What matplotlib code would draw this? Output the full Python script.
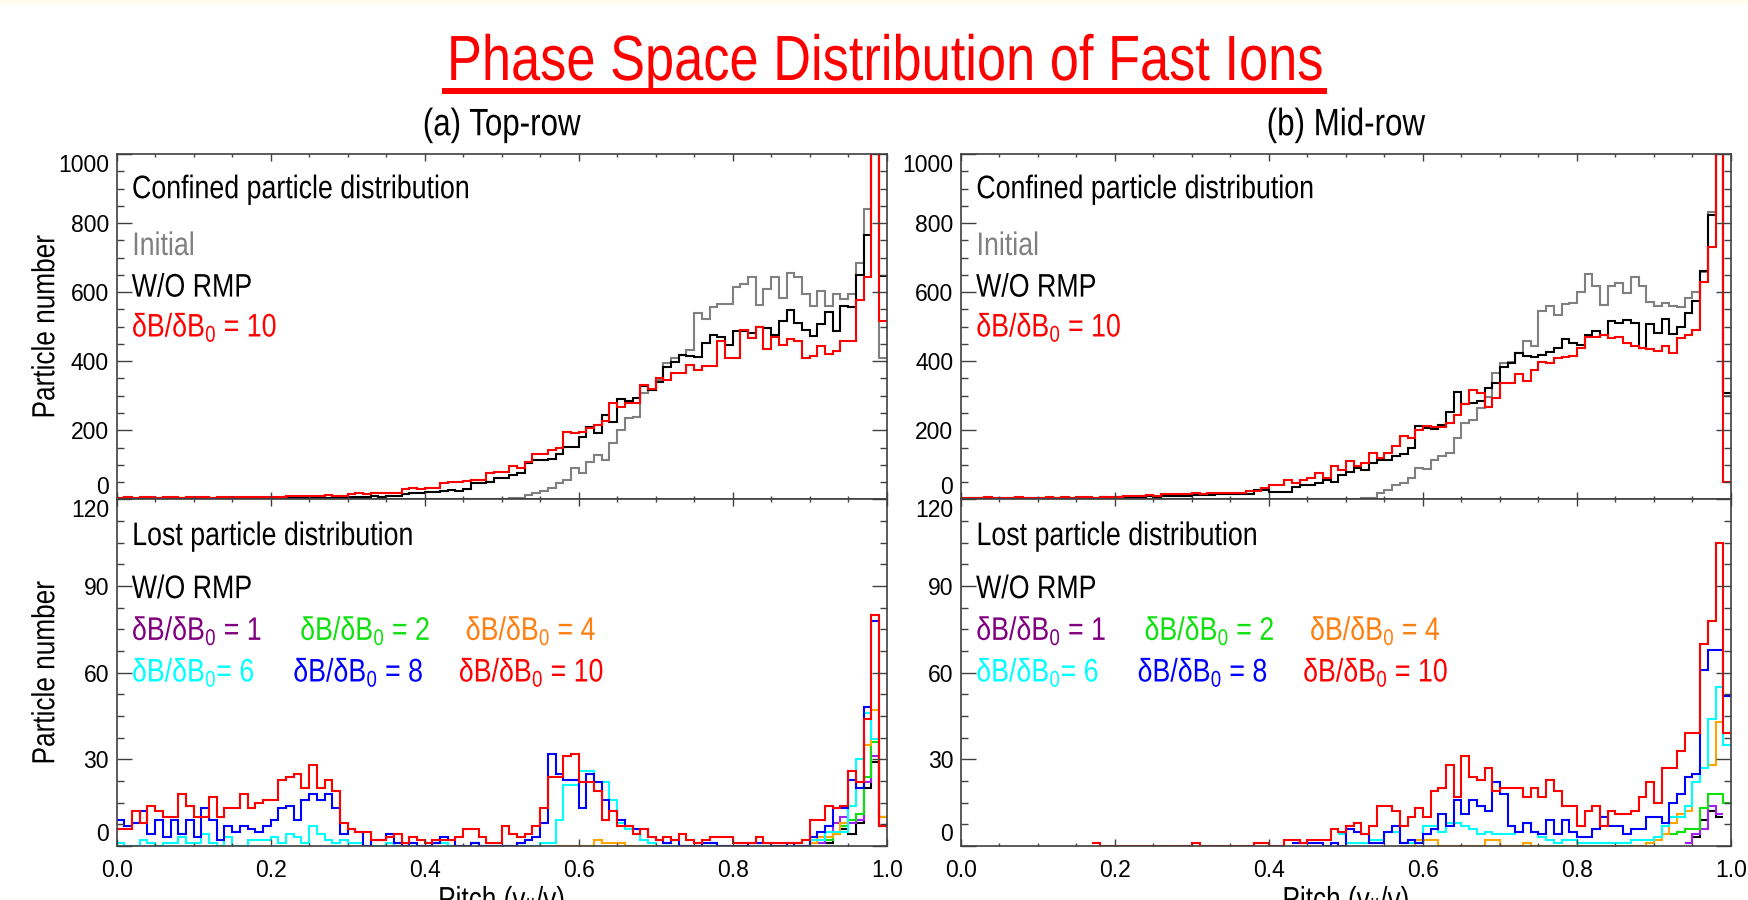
import numpy as np
import matplotlib
matplotlib.use("Agg")
import matplotlib.pyplot as plt
from matplotlib.lines import Line2D
from matplotlib.patches import Rectangle
from matplotlib.patheffects import AbstractPathEffect
from matplotlib.transforms import Affine2D
from matplotlib.ticker import FixedLocator, MultipleLocator, FormatStrFormatter

nan = np.nan

# ---------------------------------------------------------------------------
# histogram data: 100 pitch bins of width 0.01 on [0, 1]
# ---------------------------------------------------------------------------
pitch_edges = np.linspace(0.0, 1.0, 101)

# (a) top-row, confined particles
conf_top_initial = [0] * 50 + [
    1, 3, 5, 12, 17, 25, 32, 46, 56, 90,
    77, 109, 128, 114, 162, 201, 235, 239, 307, 317,
    346, 394, 408, 418, 432, 540, 521, 556, 566, 566,
    616, 623, 645, 563, 608, 645, 583, 654, 643, 595,
    561, 604, 561, 595, 580, 595, 685, 840, 1350, 408]
conf_top_worm = [
    4, 3, 4, 5, 3, 4, 4, 3, 5, 4,
    4, 5, 3, 4, 5, 4, 4, 5, 5, 4,
    5, 5, 6, 4, 5, 6, 6, 5, 7, 6,
    8, 7, 8, 9, 8, 10, 9, 14, 17, 19,
    20, 22, 24, 26, 25, 30, 46, 46, 50, 61,
    61, 70, 75, 105, 114, 114, 118, 131, 152, 152,
    181, 210, 191, 244, 225, 290, 286, 292, 328, 317,
    341, 384, 399, 418, 415, 411, 452, 476, 469, 447,
    486, 486, 481, 500, 495, 476, 515, 548, 510, 490,
    474, 508, 543, 486, 560, 556, 650, 765, 1350, 648]
conf_top_db10 = [
    5, 6, 5, 7, 6, 5, 6, 7, 5, 6,
    7, 6, 5, 7, 6, 6, 7, 6, 8, 7,
    6, 8, 9, 10, 9, 11, 10, 12, 10, 11,
    15, 17, 16, 18, 17, 19, 18, 30, 32, 31,
    34, 32, 48, 51, 50, 52, 55, 56, 75, 80,
    80, 95, 90, 109, 131, 131, 143, 150, 196, 191,
    196, 206, 215, 228, 278, 268, 278, 278, 331, 319,
    350, 346, 367, 365, 389, 375, 386, 386, 457, 408,
    408, 490, 466, 500, 436, 469, 447, 465, 457, 408,
    416, 443, 420, 430, 457, 457, 577, 645, 1350, 517]

# (b) mid-row, confined particles
conf_mid_initial = [0] * 50 + [
    1, 2, 3, 5, 17, 27, 41, 46, 61, 90,
    87, 114, 125, 135, 177, 222, 230, 264, 297, 367,
    394, 399, 423, 457, 444, 546, 560, 534, 566, 569,
    601, 652, 618, 563, 618, 626, 598, 645, 618, 572,
    560, 569, 560, 558, 582, 601, 659, 833, 1350, 300]
conf_mid_worm = [
    3, 4, 3, 3, 4, 3, 4, 5, 3, 4,
    4, 3, 5, 4, 4, 5, 4, 5, 6, 5,
    6, 7, 8, 7, 9, 8, 10, 9, 11, 10,
    12, 13, 12, 15, 15, 15, 15, 15, 27, 27,
    22, 22, 22, 35, 41, 41, 48, 56, 51, 70,
    80, 90, 85, 104, 114, 114, 124, 131, 148, 212,
    206, 203, 215, 254, 312, 276, 280, 286, 322, 336,
    383, 394, 425, 415, 411, 418, 428, 437, 465, 452,
    447, 476, 486, 476, 517, 510, 519, 510, 437, 508,
    483, 521, 480, 500, 540, 575, 662, 823, 1350, 307]
conf_mid_db10 = [
    4, 5, 4, 6, 5, 4, 5, 6, 5, 4,
    5, 6, 5, 6, 5, 7, 6, 5, 6, 7,
    8, 10, 11, 10, 12, 11, 14, 15, 16, 15,
    17, 16, 18, 19, 19, 17, 17, 25, 25, 32,
    41, 41, 56, 46, 56, 61, 77, 61, 97, 85,
    112, 97, 106, 133, 119, 133, 154, 183, 177, 201,
    212, 210, 208, 220, 244, 276, 317, 307, 268, 292,
    336, 338, 363, 344, 375, 399, 394, 408, 413, 415,
    437, 469, 469, 476, 466, 469, 452, 443, 437, 434,
    430, 444, 425, 466, 476, 490, 629, 732, 1350, 49]

# (a) top-row, lost particles
lost_top_worm = [nan] * 92 + [1, 4, 6, 4, 8, 20, 29, 10]
lost_top_db1 = [nan] * 91 + [1, 3, 8, 10, 8, 9, 22, 31, 7]
lost_top_db2 = [nan] * 92 + [2, 4, 7, 9, 11, 24, 36, 10]
lost_top_db4 = [nan] * 57 + [0, 0, 0, 0, 0, 2, 1, 1, 1, 0] + [0] * 23 + [
    1, 3, 3, 4, 8, 14, 20, 35, 47, 10]
lost_top_db6 = [
    1, 0, 0, 2, 1, 0, 1, 1, 3, 1,
    1, 4, 1, 0, 3, 0, 0, 2, 2, 2,
    3, 1, 4, 3, 1, 7, 4, 2, 1, 2,
    1, 1, 0, 0, 0, 1, 0, 0, 0, 0,
    0, 1, 1, 0, 0, 0, 1, 0, 0, 0,
    0, 0, 0, 0, 0, 1, 1, 9, 21, 21,
    26, 26, 19, 22, 16, 8, 6, 4, 2, 1,
    0, 0, 0, 0, 0, 0, 0, 0, 0, 0,
    0, 0, 0, 0, 0, 0, 0, 0, 0, 0,
    2, 2, 5, 5, 5, 14, 30, 46, 37, nan]
lost_top_db8 = [
    9, 7, 8, 12, 4, 9, 3, 9, 4, 9,
    3, 13, 9, 2, 7, 5, 7, 6, 5, 7,
    9, 13, 14, 9, 16, 18, 16, 18, 13, 4,
    6, 5, 0, 2, 2, 4, 1, 0, 1, 0,
    0, 1, 3, 2, 0, 0, 1, 0, 0, 0,
    0, 0, 1, 2, 3, 8, 32, 25, 23, 23,
    13, 25, 22, 16, 12, 9, 7, 6, 6, 3,
    2, 1, 2, 0, 0, 0, 1, 1, 0, 0,
    0, 0, 1, 1, 1, 0, 0, 1, 0, 0,
    3, 5, 7, 13, 13, 23, 20, 48, 78, 7]
lost_top_db10 = [
    6, 6, 12, 8, 14, 12, 10, 10, 18, 14,
    10, 10, 17, 10, 13, 13, 18, 13, 15, 16,
    16, 23, 24, 25, 20, 28, 20, 23, 19, 8,
    6, 5, 5, 2, 2, 3, 4, 1, 3, 2,
    1, 2, 2, 2, 3, 6, 6, 3, 1, 1,
    7, 4, 3, 4, 7, 13, 24, 24, 31, 32,
    22, 22, 19, 9, 12, 7, 7, 4, 6, 3,
    2, 3, 2, 4, 2, 1, 2, 3, 3, 3,
    1, 1, 1, 3, 1, 1, 1, 1, 1, 2,
    9, 9, 14, 13, 14, 26, 22, 44, 80, 7]

# (b) mid-row, lost particles
lost_mid_worm = [nan] * 94 + [1, 3, 9, 12, 10, nan]
lost_mid_db1 = [nan] * 94 + [1, 4, 6, 14, 11, nan]
lost_mid_db2 = [nan] * 92 + [4, 5, 6, 6, 13, 18, 18, 15]
lost_mid_db4 = [nan] * 57 + [0, 0, 2, 2, 2, 0, 0, 0, 0, 0, 0, 2, 2, 0, 0, 0, 1] + [0] * 15 + [
    1, 2, 4, 8, 11, 12, 22, 27, 28, 43, nan]
lost_mid_db6 = [nan] * 49 + [4,
    1, 1, 1, 2, 2, 5, 5, 1, 1, 1,
    7, 7, 5, 8, 8, 7, 6, 4, 5, 4,
    4, 4, 5, 8, 5, 3, 2, 1, 2, 2,
    1, 1, 1, 1, 1, 1, 1, 2, 2, 2,
    3, 7, 10, 10, 14, 22, 27, 44, 55, 35]
lost_mid_db8 = [nan] * 43 + [1, 1, 1, 1, 0, 1, 0,
    6, 5, 4, 1, 1, 5, 7, 1, 2, 1,
    4, 6, 11, 7, 16, 11, 16, 14, 12, 22,
    18, 7, 5, 8, 5, 4, 9, 4, 9, 5,
    3, 3, 6, 10, 7, 7, 4, 6, 6, 10,
    10, 8, 15, 18, 24, 25, 61, 68, 68, 52]
lost_mid_db10 = [nan] * 17 + [1] + [0] * 12 + [1] + [0] * 7 + [
    1, 1, 0, 0, 2, 2, 1, 2, 2, 2,
    6, 5, 7, 8, 4, 7, 14, 14, 12, 7,
    10, 13, 10, 19, 20, 28, 17, 31, 24, 23,
    27, 19, 20, 20, 20, 17, 20, 17, 23, 19,
    14, 14, 7, 12, 14, 7, 12, 11, 11, 12,
    17, 22, 15, 27, 27, 33, 39, 39, 70, 78,
    105, 39]

# ---------------------------------------------------------------------------
# styling
# ---------------------------------------------------------------------------
plt.rcParams["font.family"] = ["Liberation Sans", "DejaVu Sans"]
plt.rcParams["mathtext.fontset"] = "custom"
plt.rcParams["mathtext.rm"] = "Liberation Sans"
plt.rcParams["mathtext.it"] = "Liberation Sans"
plt.rcParams["mathtext.default"] = "regular"

AXIS_COLOR = "#404040"
LW = 1.5
C_GRAY = "#808080"
C_PURPLE_TXT, C_PURPLE = "#800080", "#a020f0"
C_GREEN = "#10e010"
C_ORANGE_TXT, C_ORANGE = "#ff7f10", "#ffa500"
C_CYAN = "#00ffff"
C_BLUE = "#0000ff"
C_RED = "#ff0000"

TEXT_SIZE = 23.5
TICK_SIZE = 16.5


class Condensed(AbstractPathEffect):
    """Draw text squeezed along its reading direction (narrow Helvetica look)."""

    def __init__(self, factor=0.82, anchor="left", vertical=False):
        super().__init__()
        self.factor = factor
        self.anchor = anchor
        self.vertical = vertical

    def draw_path(self, renderer, gc, tpath, affine, rgbFace=None):
        ext = tpath.get_extents(affine)
        if self.vertical:
            oy = (ext.y0 + ext.y1) / 2
            squeeze = Affine2D().translate(0, -oy).scale(1, self.factor).translate(0, oy)
        else:
            ox = {"left": ext.x0, "center": (ext.x0 + ext.x1) / 2,
                  "right": ext.x1}[self.anchor]
            squeeze = Affine2D().translate(-ox, 0).scale(self.factor, 1).translate(ox, 0)
        renderer.draw_path(gc, tpath, affine + squeeze, rgbFace)


def narrow(txt, anchor="left", vertical=False):
    txt.set_path_effects([Condensed(anchor=anchor, vertical=vertical)])
    return txt


def draw_hist(ax, values, color):
    ax.stairs(np.array(values, dtype=float), pitch_edges, baseline=None,
              color=color, lw=LW)


def style_axes(ax, yticks, yminor, xlabels):
    ax.set_xlim(0, 1)
    ax.set_ylim(yticks[0], yticks[-1])
    ax.xaxis.set_major_locator(FixedLocator([0.0, 0.2, 0.4, 0.6, 0.8, 1.0]))
    ax.xaxis.set_minor_locator(MultipleLocator(0.05))
    ax.yaxis.set_major_locator(FixedLocator(yticks))
    ax.yaxis.set_minor_locator(MultipleLocator(yminor))
    ax.xaxis.set_major_formatter(FormatStrFormatter("%.1f"))
    ax.yaxis.set_major_formatter(FormatStrFormatter("%d"))
    ax.tick_params(which="both", direction="in", top=True, right=True,
                   color=AXIS_COLOR, width=1.0)
    ax.tick_params(axis="x", which="major", length=5, pad=9.5,
                   labelsize=TICK_SIZE, labelbottom=xlabels)
    ax.tick_params(axis="x", which="minor", length=2.5)
    ax.tick_params(axis="y", which="major", length=11, pad=5.5,
                   labelsize=TICK_SIZE)
    ax.tick_params(axis="y", which="minor", length=5)
    ylabels = ax.get_yticklabels()
    ylabels[0].set_va("bottom")
    ylabels[-1].set_va("top")
    for sp in ax.spines.values():
        sp.set_color(AXIS_COLOR)
        sp.set_linewidth(1.2)


def label(ax, x, y, s, color="black"):
    narrow(ax.text(x, y, s, transform=ax.transAxes, color=color,
                   fontsize=TEXT_SIZE, va="baseline"))


# ---------------------------------------------------------------------------
# figure
# ---------------------------------------------------------------------------
fig = plt.figure(figsize=(17.48, 9.0), dpi=100)
fig.patches.append(Rectangle((0, 1 - 5 / 900), 1, 5 / 900, transform=fig.transFigure,
                             facecolor="#fefdf0", edgecolor="none"))

left_x, right_x, width = 0.06676, 0.54977, 0.4405
upper_y, lower_y, height = 0.44522, 0.06, 0.38367

panels = [
    ("(a) Top-row", left_x, conf_top_initial, conf_top_worm, conf_top_db10,
     [lost_top_worm, lost_top_db1, lost_top_db2, lost_top_db4,
      lost_top_db6, lost_top_db8, lost_top_db10], True),
    ("(b) Mid-row", right_x, conf_mid_initial, conf_mid_worm, conf_mid_db10,
     [lost_mid_worm, lost_mid_db1, lost_mid_db2, lost_mid_db4,
      lost_mid_db6, lost_mid_db8, lost_mid_db10], False),
]
lost_colors = ["black", C_PURPLE, C_GREEN, C_ORANGE, C_CYAN, C_BLUE, C_RED]

for title, x0, initial, worm, db10, lost, with_ylabel in panels:
    ax_c = fig.add_axes([x0, upper_y, width, height])
    ax_l = fig.add_axes([x0, lower_y, width, 0.38522])

    # confined particle distribution
    draw_hist(ax_c, initial, C_GRAY)
    draw_hist(ax_c, worm, "black")
    draw_hist(ax_c, db10, C_RED)
    style_axes(ax_c, [0, 200, 400, 600, 800, 1000], 50, False)
    narrow(ax_c.set_title(title, fontsize=27.5, pad=13.5), anchor="center")

    label(ax_c, 0.0195, 0.872, "Confined particle distribution")
    label(ax_c, 0.0195, 0.7075, "Initial", C_GRAY)
    label(ax_c, 0.0195, 0.587, "W/O RMP")
    label(ax_c, 0.0195, 0.471, "δB/δB$_0$ = 10", C_RED)

    # lost particle distribution
    for vals, col in zip(lost, lost_colors):
        draw_hist(ax_l, vals, col)
    style_axes(ax_l, [0, 30, 60, 90, 120], 7.5, True)
    narrow(ax_l.set_xlabel("Pitch (v$_{||}$/v)", fontsize=23, va="top"),
           anchor="center")
    ax_l.xaxis.set_label_coords(0.5, -0.11)

    label(ax_l, 0.0195, 0.868, "Lost particle distribution")
    label(ax_l, 0.0195, 0.715, "W/O RMP")
    label(ax_l, 0.0195, 0.594, "δB/δB$_0$ = 1", C_PURPLE_TXT)
    label(ax_l, 0.238, 0.594, "δB/δB$_0$ = 2", C_GREEN)
    label(ax_l, 0.453, 0.594, "δB/δB$_0$ = 4", C_ORANGE_TXT)
    label(ax_l, 0.0195, 0.474, "δB/δB$_0$= 6", C_CYAN)
    label(ax_l, 0.229, 0.474, "δB/δB$_0$ = 8", C_BLUE)
    label(ax_l, 0.444, 0.474, "δB/δB$_0$ = 10", C_RED)

    if with_ylabel:
        for ax in (ax_c, ax_l):
            narrow(ax.set_ylabel("Particle number", fontsize=23),
                   vertical=True)
            ax.yaxis.set_label_coords(-0.072, 0.5)

# main heading with underline
narrow(fig.text(0.506, 1 - 80 / 900, "Phase Space Distribution of Fast Ions",
                color=C_RED, fontsize=46, ha="center", va="baseline"),
       anchor="center")
fig.add_artist(Line2D([442 / 1748, 1327 / 1748], [1 - 90.5 / 900] * 2,
                      transform=fig.transFigure, color=C_RED, lw=4.3,
                      solid_capstyle="butt"))

fig.savefig("out.png", dpi=100)
